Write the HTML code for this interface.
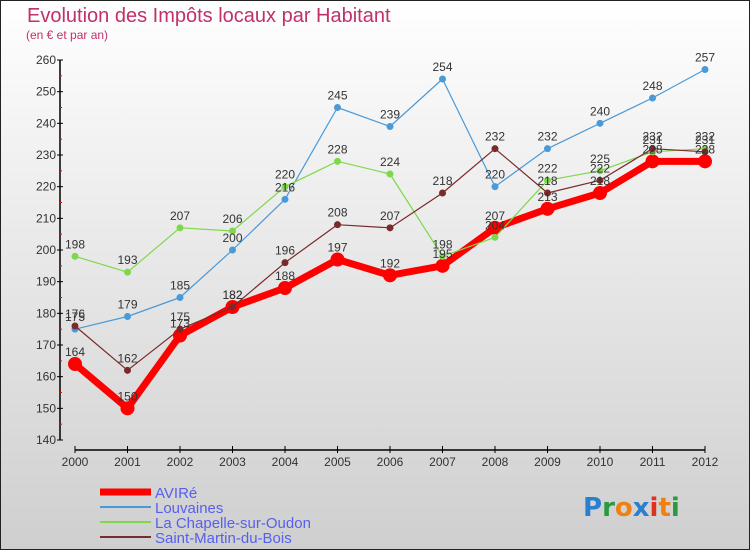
<!DOCTYPE html>
<html><head><meta charset="utf-8"><style>
body{margin:0;padding:0}
#wrap{position:relative;width:748px;height:548px;border:1px solid #222;background:linear-gradient(#fff,#f0f0f0 30%,#cfcfcf);font-family:"Liberation Sans",sans-serif;overflow:hidden}
svg{position:absolute;left:-1px;top:-1px}
</style></head><body>
<div id="wrap">
<svg id="chart" width="750" height="550">
<text x="27" y="22" font-size="20" fill="#c0306a">Evolution des Impôts locaux par Habitant</text>
<text x="26" y="39" font-size="12" fill="#c0306a">(en € et par an)</text>
<g id="axes"></g><g id="series"></g><g id="labels"></g><g id="legend"></g>
<g font-size="26" font-weight="bold" font-family="DejaVu Sans, sans-serif">
<text x="583" y="516"><tspan fill="#2a7fd0">P</tspan><tspan fill="#2a9a40">r</tspan><tspan fill="#f08010">o</tspan><tspan fill="#2a7fd0">x</tspan><tspan fill="#e03020">i</tspan><tspan fill="#f08010">t</tspan><tspan fill="#2a9a40">i</tspan></text>
</g>
</svg></div>
<script>
const years=["2000","2001","2002","2003","2004","2005","2006","2007","2008","2009","2010","2011","2012"];
const avire=[164,150,173,182,188,197,192,195,207,213,218,228,228];
const louvaines=[175,179,185,200,216,245,239,254,220,232,240,248,257];
const chapelle=[198,193,207,206,220,228,224,198,204,222,225,231,232];
const stmartin=[176,162,175,182,196,208,207,218,232,218,222,232,231];
const yTicks=[140,150,160,170,180,190,200,210,220,230,240,250,260];
const NS="http://www.w3.org/2000/svg";
function X(i){return 75+i*52.5;}
function Y(v){return 440-(v-140)*380/120;}
function mk(t,a,p){const e=document.createElementNS(NS,t);for(const k in a)e.setAttribute(k,a[k]);p.appendChild(e);return e;}
const ax=document.getElementById('axes');
let l=mk('line',{x1:60,y1:60,x2:60,y2:440,stroke:'#000','stroke-width':1.5},ax);

yTicks.forEach((v,i)=>{mk('line',{x1:57,y1:Y(v),x2:63,y2:Y(v),stroke:'#000'},ax);
 if(i<yTicks.length-1)mk('line',{x1:59,y1:Y(v+5),x2:62,y2:Y(v+5),stroke:'#e00'},ax);
 const t=mk('text',{x:56,y:Y(v)+4,'text-anchor':'end','font-size':12,fill:'#333'},ax);t.textContent=v;
 });
l=mk('line',{x1:75,y1:450,x2:705,y2:450,stroke:'#000','stroke-width':1.5},ax);

years.forEach((y,i)=>{mk('line',{x1:X(i),y1:446,x2:X(i),y2:453,stroke:'#000'},ax);
 const t=mk('text',{x:X(i),y:466,'text-anchor':'middle','font-size':12,fill:'#333'},ax);t.textContent=y;
 });
const sg=document.getElementById('series'),lg=document.getElementById('labels');
const defs=[
 {d:louvaines,c:'#4a9ad8',w:1.2,r:3.5,n:'louvaines'},
 {d:chapelle,c:'#7ed84a',w:1.2,r:3.5,n:'la-chapelle'},
 {d:stmartin,c:'#7a2a2a',w:1.2,r:3.5,n:'saint-martin'},
 {d:avire,c:'#f00',w:7,r:7,n:'avire'}];
const order=[3,0,1,2];
order.forEach(k=>{const s=defs[k];
 const p=mk('polyline',{points:s.d.map((v,i)=>X(i)+','+Y(v)).join(' '),fill:'none',stroke:s.c,'stroke-width':s.w,'stroke-linejoin':'round'},sg);
 
 s.d.forEach((v,i)=>{const c=mk('circle',{cx:X(i),cy:Y(v),r:s.r,fill:s.c},sg);
  
  const t=mk('text',{x:X(i),y:Y(v)-8,'text-anchor':'middle','font-size':12,fill:'#333'},lg);t.textContent=v;
  });
});
const legItems=[['AVIRé','#f00',7],['Louvaines','#4a9ad8',2],['La Chapelle-sur-Oudon','#7ed84a',2],['Saint-Martin-du-Bois','#7a2a2a',2]];
const lgg=document.getElementById('legend');
legItems.forEach((it,i)=>{const y=492+i*15;
 const ln=mk('line',{x1:100,y1:y,x2:151,y2:y,stroke:it[1],'stroke-width':it[2]},lgg);
 
 const t=mk('text',{x:155,y:y+6,'font-size':15,fill:'#5560ee'},lgg);t.textContent=it[0];
 });
</script></body></html>
